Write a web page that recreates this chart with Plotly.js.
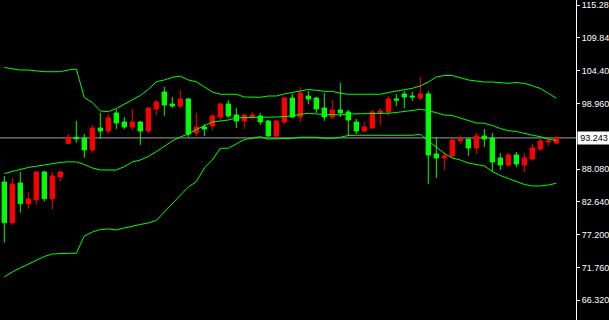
<!DOCTYPE html>
<html>
<head>
<meta charset="utf-8">
<script src="https://cdn.plot.ly/plotly-3.0.1.min.js"></script>
<style>
html,body{margin:0;padding:0;background:#000;}
#chart{width:609px;height:320px;}
</style>
</head>
<body>
<div id="chart"></div>
<script>
// Candle data (bar index order)
var openVals = [85.93,79.19,85.77,82.34,83.00,87.59,83.17,86.76,92.35,93.35,
  93.23,91.24,94.89,94.39,97.38,95.88,95.05,95.88,94.39,98.04,
  100.86,98.87,98.54,99.70,94.06,95.05,95.22,96.71,98.87,97.04,
  96.05,96.55,96.88,96.05,93.56,95.88,99.86,96.71,100.19,99.86,
  98.20,96.71,97.87,97.54,95.88,94.39,94.89,97.38,97.54,99.70,
  100.53,100.19,99.86,100.53,90.58,89.91,90.25,92.73,93.06,91.57,
  93.56,93.23,89.91,88.75,90.41,88.75,89.75,91.41,92.57,92.40];
var highVals = [86.93,86.60,87.59,84.28,87.76,87.76,87.59,87.76,93.89,96.05,
  93.89,95.39,97.38,97.21,98.04,96.71,98.04,96.05,98.37,99.53,
  101.69,100.03,101.19,99.86,97.38,95.55,97.21,99.03,99.53,98.20,
  97.21,97.54,97.38,96.21,96.21,100.03,100.53,101.69,101.02,100.03,
  100.69,99.53,102.35,97.87,96.38,95.88,97.87,98.20,100.19,100.53,
  101.02,100.86,103.34,101.02,93.40,90.91,93.23,93.73,93.10,94.06,
  94.72,94.06,90.74,90.74,90.91,90.74,92.24,93.06,93.06,93.56];
var lowVals = [75.87,78.75,80.84,81.51,82.17,82.67,81.34,85.98,92.30,92.45,
  89.96,90.74,93.06,93.89,94.72,94.72,94.56,92.07,94.06,97.04,
  96.88,98.20,98.20,93.40,93.56,93.56,94.56,96.05,96.55,94.89,
  94.72,96.38,95.39,93.40,92.90,95.55,96.60,95.88,98.87,97.38,
  96.05,96.38,96.71,93.56,93.89,94.22,94.72,95.39,96.88,98.54,
  98.20,99.36,99.53,85.60,86.60,87.92,89.91,92.24,90.25,90.58,
  91.74,87.59,87.92,88.42,88.42,87.59,89.42,91.07,91.90,92.24];
var closeVals = [79.19,85.60,82.34,83.12,87.59,83.17,86.93,87.59,93.35,93.11,
  91.24,94.89,94.39,96.55,95.72,95.05,95.88,94.39,98.20,99.20,
  98.70,98.54,99.70,93.89,95.05,94.72,96.88,98.87,96.88,96.05,
  97.04,97.04,95.88,93.56,96.05,99.86,96.71,100.69,99.70,98.04,
  96.71,97.87,97.38,96.21,94.39,95.05,97.54,97.71,99.70,99.53,
  100.03,100.03,100.53,90.41,89.91,90.25,92.90,93.06,91.57,93.56,
  93.06,89.25,88.75,90.41,88.92,89.91,91.57,92.73,92.73,93.24];

// Bollinger bands
var upperBand = [104.92,104.75,104.50,104.50,104.34,104.22,104.22,104.22,104.50,104.67,
  99.94,99.12,97.71,97.59,98.12,98.87,99.48,100.28,101.27,102.56,
  102.85,103.29,103.48,102.85,102.56,101.77,100.86,100.48,100.48,100.48,
  100.03,99.98,99.98,100.19,100.19,100.53,100.74,101.02,101.27,101.14,
  100.97,100.97,100.64,100.48,100.48,100.48,100.48,100.48,100.77,100.97,
  101.19,101.47,101.85,102.51,103.34,103.59,103.59,103.26,102.85,102.68,
  102.51,102.51,102.43,102.30,102.43,102.27,101.90,101.44,100.64,99.81];
var middleBand = [87.34,87.68,87.92,88.34,88.54,88.75,89.00,89.17,89.28,89.25,
  88.84,88.26,87.92,87.92,87.92,88.47,89.25,89.58,90.16,90.96,
  91.82,92.73,93.40,93.89,94.64,95.22,95.88,96.05,96.21,96.55,
  96.66,96.66,96.66,96.66,96.71,96.79,96.88,97.16,97.33,97.21,
  97.16,97.13,97.04,97.21,97.21,97.21,97.24,97.29,97.33,97.46,
  97.59,97.79,97.96,97.79,97.46,97.04,96.96,96.55,96.13,95.72,
  95.67,95.30,94.80,94.44,94.31,93.98,93.69,93.45,93.06,92.82];
var lowerBand = [70.18,71.01,71.68,72.34,73.00,73.58,74.00,74.11,74.11,74.11,
  76.98,77.64,78.06,78.14,77.98,78.31,78.64,78.89,79.14,79.55,
  80.96,82.29,83.61,85.11,85.98,88.26,89.58,91.52,91.52,92.32,
  92.98,93.18,93.45,93.06,93.06,93.18,93.18,93.35,93.35,93.35,
  93.18,93.18,93.35,93.64,93.68,93.68,93.68,93.68,93.68,93.68,
  93.68,93.68,93.84,92.82,91.65,90.66,89.91,89.58,89.08,88.84,
  88.59,87.68,87.01,86.52,86.02,85.52,85.27,85.27,85.44,85.72];

// Axis ticks
var tickVals = [115.28,109.84,104.40,98.96,88.08,82.64,77.20,71.76,66.32];
var tickText = ["115.28","109.84","104.40","98.960","88.080","82.640","77.200","71.760","66.320"];
var lastPrice = 93.243;
var lastPriceText = "93.243";

var barIndex = openVals.map(function(_, i){ return i; });

var traces = [
  {
    type: 'candlestick',
    x: barIndex,
    open: openVals, high: highVals, low: lowVals, close: closeVals,
    increasing: {line: {color: '#ff0000', width: 1}, fillcolor: '#ff0000'},
    decreasing: {line: {color: '#00ff00', width: 1}, fillcolor: '#00ff00'},
    whiskerwidth: 0,
    hoverinfo: 'skip'
  },
  {type: 'scatter', mode: 'lines', x: barIndex, y: upperBand, line: {color: '#00ff00', width: 1}, hoverinfo: 'skip'},
  {type: 'scatter', mode: 'lines', x: barIndex, y: middleBand, line: {color: '#00ff00', width: 1}, hoverinfo: 'skip'},
  {type: 'scatter', mode: 'lines', x: barIndex, y: lowerBand, line: {color: '#00ff00', width: 1}, hoverinfo: 'skip'}
];

var layout = {
  width: 609, height: 320,
  margin: {l: 0, r: 33, t: 0, b: 0, pad: 0},
  paper_bgcolor: '#000000',
  plot_bgcolor: '#000000',
  showlegend: false,
  boxgap: 0.45,
  boxgroupgap: 0,
  xaxis: {visible: false, range: [-0.5375, 71.46], rangeslider: {visible: false}, fixedrange: true},
  yaxis: {
    side: 'right',
    range: [63.05, 116.11],
    tickmode: 'array', tickvals: tickVals, ticktext: tickText,
    showgrid: false, zeroline: false,
    showline: true, linecolor: '#ffffff', linewidth: 1,
    ticks: 'outside', ticklen: 3, tickcolor: '#ffffff', tickwidth: 1,
    tickfont: {family: 'Liberation Sans, Arial, sans-serif', size: 9, color: '#ffffff'},
    fixedrange: true
  },
  shapes: [{
    type: 'line', xref: 'paper', x0: 0, x1: 1, yref: 'y', y0: lastPrice, y1: lastPrice,
    line: {color: '#a0a0a8', width: 1}, layer: 'below'
  }],
  annotations: [{
    xref: 'paper', x: 1, xanchor: 'left', xshift: 1,
    yref: 'y', y: lastPrice, yanchor: 'middle',
    text: lastPriceText, showarrow: false,
    font: {family: 'Liberation Sans, Arial, sans-serif', size: 9, color: '#000000'},
    bgcolor: '#ffffff', borderpad: 1, width: 30, align: 'center'
  }]
};

Plotly.newPlot('chart', traces, layout, {displayModeBar: false, staticPlot: true});
</script>
</body>
</html>
